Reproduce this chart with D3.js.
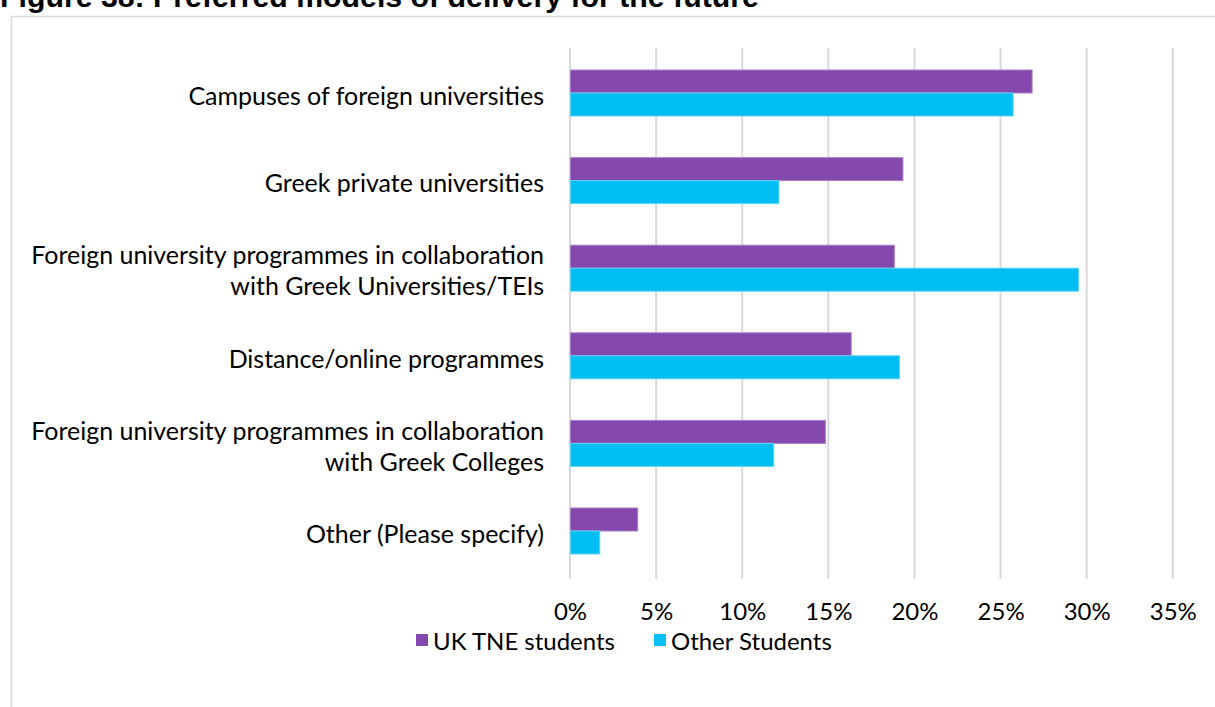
<!DOCTYPE html>
<html><head><meta charset="utf-8">
<script src="https://cdn.jsdelivr.net/npm/d3@7"></script>
<style>
html,body{margin:0;padding:0;background:#fff;overflow:hidden}
svg{display:block}
</style></head>
<body>
<svg id="c" width="1215" height="707"></svg>
<script>
const categories = [
  ["Campuses of foreign universities"],
  ["Greek private universities"],
  ["Foreign university programmes in collaboration","with Greek Universities/TEIs"],
  ["Distance/online programmes"],
  ["Foreign university programmes in collaboration","with Greek Colleges"],
  ["Other (Please specify)"]
];
const seriesNames = ["UK TNE students","Other Students"];
const ukTne = [26.8, 19.3, 18.8, 16.3, 14.8, 3.9];
const otherStudents = [25.7, 12.1, 29.5, 19.1, 11.8, 1.7];
const tickValues = [0,5,10,15,20,25,30,35];
const titleText = "Figure 38: Preferred models of delivery for the future";
const colors = ["#8549AD","#00BDF2"];
const strokes = ["#A97FC8","#5ED3F5"];

const svg = d3.select("#c");
const labelFont = "Lato, 'Open Sans', sans-serif";

function fitSize(str, family, weight, target){
  const t = svg.append("text").attr("font-family",family).attr("font-weight",weight).attr("font-size",20).text(str);
  const w = t.node().getComputedTextLength(); t.remove();
  return 20*target/w;
}
const labelSize = fitSize("Foreign university programmes in collaboration", labelFont, "normal", 513);
const smallSize = fitSize("UK TNE students", labelFont, "normal", 182);
const titleSize = fitSize("Figure 38: Preferred models of deli", "'Liberation Sans', Arial, sans-serif", "bold", 500);

// border
svg.append("rect").attr("x",11.5).attr("y",16.5).attr("width",1300).attr("height",800)
  .attr("fill","none").attr("stroke","#d9d9d9").attr("stroke-width",1.5);

// title (cut off at top as in the reference)
svg.append("text").attr("x",0).attr("y",6.5)
  .attr("font-family","'Liberation Sans', Arial, sans-serif").attr("font-weight","bold")
  .attr("font-size",titleSize).attr("fill","#000").text(titleText);

const x = d3.scaleLinear().domain([0,35]).range([570,1172.8]);
const y = d3.scaleBand().domain(d3.range(categories.length)).range([49.2,574.8]).paddingInner(0.475).paddingOuter(0.2375);
const sub = d3.scaleBand().domain([0,1]).range([0,y.bandwidth()]);

// gridlines
svg.append("g").selectAll("line").data(tickValues).join("line")
  .attr("x1",d=>x(d)).attr("x2",d=>x(d)).attr("y1",48).attr("y2",579)
  .attr("stroke","#d9d9d9").attr("stroke-width",2);

// tick labels
const xAxis = d3.axisBottom(x).tickValues(tickValues).tickFormat(d=>d+"%").tickSize(0).tickPadding(0);
const gx = svg.append("g").attr("transform","translate(0,612)").call(xAxis);
gx.select(".domain").remove();
gx.selectAll("text").attr("font-family",labelFont).attr("font-size",smallSize).attr("fill","#000")
  .attr("dy","0.35em");

// bars
const data = [ukTne, otherStudents];
data.forEach((vals,si)=>{
  svg.append("g").selectAll("rect").data(vals).join("rect")
    .attr("x",x(0)+0.5)
    .attr("y",(d,i)=>y(i)+sub(si))
    .attr("width",d=>x(d)-x(0))
    .attr("height",sub.bandwidth())
    .attr("fill",colors[si]).attr("stroke",strokes[si]).attr("stroke-width",1);
});

// category labels
const lg = svg.append("g");
categories.forEach((lines,i)=>{
  const cy = y(i)+y.bandwidth()/2 + 3;
  const lh = 31;
  const t = lg.append("text").attr("text-anchor","end").attr("font-family",labelFont)
    .attr("font-size",labelSize).attr("fill","#000");
  lines.forEach((ln,j)=>{
    t.append("tspan").attr("x",544)
      .attr("y", cy + (j-(lines.length-1)/2)*lh).attr("dy","0.35em").text(ln);
  });
});

// legend
const legendX = [416, 654];
seriesNames.forEach((n,i)=>{
  svg.append("rect").attr("x",legendX[i]).attr("y",634).attr("width",12).attr("height",12).attr("fill",colors[i]);
  svg.append("text").attr("x",legendX[i]+17).attr("y",642).attr("dy","0.35em")
    .attr("font-family",labelFont).attr("font-size",smallSize).attr("fill","#000").text(n);
});
</script>
</body></html>
